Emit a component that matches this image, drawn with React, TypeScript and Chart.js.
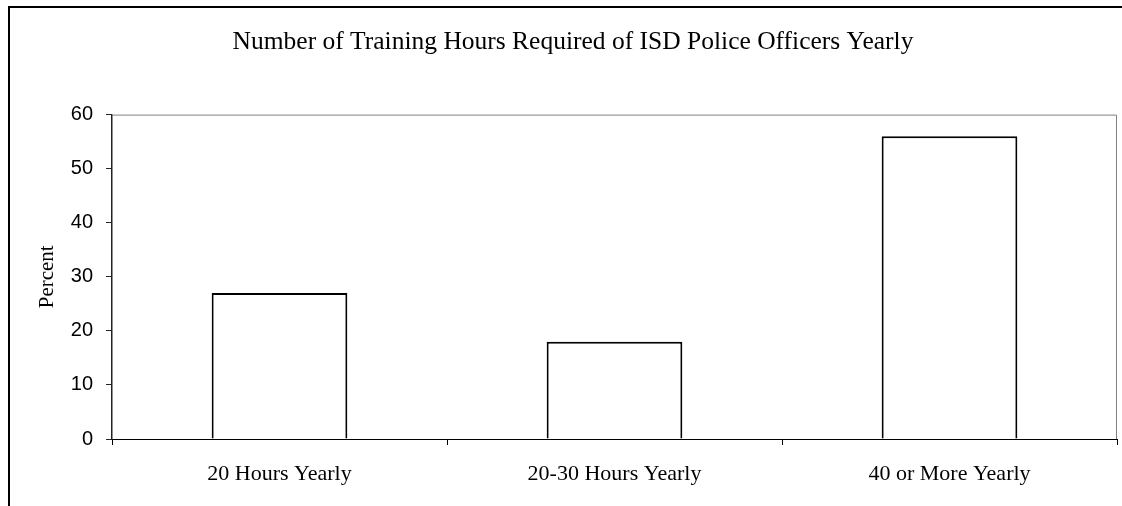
import React, { useEffect, useRef } from "react";
import { Chart, registerables } from "chart.js";

Chart.register(...registerables);

const categories = ["20 Hours Yearly", "20-30 Hours Yearly", "40 or More Yearly"];
const percentValues = [27, 18, 56];
const yTicks = [0, 10, 20, 30, 40, 50, 60];
const chartTitle = "Number of Training Hours Required of ISD Police Officers Yearly";
const yAxisTitle = "Percent";

const SERIF = "'Liberation Serif', 'Times New Roman', serif";
const SANS = "'Liberation Sans', Arial, sans-serif";

const framePlugin = {
  id: "frame",
  beforeDraw(chart: any) {
    const ctx = chart.ctx;
    ctx.save();
    ctx.fillStyle = "#ffffff";
    ctx.fillRect(0, 0, chart.width, chart.height);
    ctx.strokeStyle = "#000000";
    ctx.lineWidth = 2;
    ctx.beginPath();
    ctx.moveTo(9, chart.height + 10);
    ctx.lineTo(9, 7);
    ctx.lineTo(chart.width + 10, 7);
    ctx.stroke();
    ctx.restore();
  },
  afterDraw(chart: any) {
    const { left, top, right } = chart.chartArea;
    const ctx = chart.ctx;
    ctx.save();
    ctx.strokeStyle = "#808080";
    ctx.lineWidth = 1;
    ctx.beginPath();
    ctx.moveTo(left, top + 0.5);
    ctx.lineTo(right - 0.5, top + 0.5);
    ctx.lineTo(right - 0.5, chart.chartArea.bottom);
    ctx.stroke();
    ctx.restore();
  },
};

export default function App() {
  const canvasRef = useRef<HTMLCanvasElement | null>(null);

  useEffect(() => {
    if (!canvasRef.current) return;
    const chart = new Chart(canvasRef.current, {
      type: "bar",
      data: {
        labels: categories,
        datasets: [
          {
            data: percentValues,
            backgroundColor: "#ffffff",
            borderColor: "#000000",
            borderWidth: 2,
            barPercentage: 0.405,
            categoryPercentage: 1,
          },
        ],
      },
      options: {
        animation: false,
        responsive: false,
        devicePixelRatio: 1,
        layout: { padding: { left: 29, right: 5, top: 0, bottom: 0 } },
        plugins: {
          legend: { display: false },
          tooltip: { enabled: false },
          title: {
            display: true,
            text: chartTitle,
            color: "#000000",
            font: { family: SERIF, size: 25.5, weight: "normal" },
            padding: { top: 27, bottom: 57 },
          },
        },
        scales: {
          x: {
            grid: {
              display: true,
              drawOnChartArea: false,
              drawTicks: true,
              tickLength: 6,
              color: "#000000",
              offset: true,
            },
            border: { display: true, color: "#000000", width: 1 },
            ticks: {
              color: "#000000",
              padding: 16,
              maxRotation: 0,
              autoSkip: false,
              font: { family: SERIF, size: 22 },
            },
            afterFit(scale: any) {
              scale.height = 67;
            },
          },
          y: {
            min: 0,
            max: 60,
            afterBuildTicks(scale: any) {
              scale.ticks = yTicks.map((v) => ({ value: v }));
            },
            grid: {
              display: true,
              drawOnChartArea: false,
              drawTicks: true,
              tickLength: 6,
              color: "#222222",
            },
            border: { display: true, color: "#222222", width: 1.5 },
            ticks: {
              color: "#000000",
              padding: 13,
              font: { family: SANS, size: 20 },
            },
            title: {
              display: true,
              text: yAxisTitle,
              color: "#000000",
              font: { family: SERIF, size: 21 },
              padding: { top: 5.5, bottom: 0 },
            },
            afterFit(scale: any) {
              scale.width = 83;
            },
          },
        },
      },
      plugins: [framePlugin],
    });
    return () => chart.destroy();
  }, []);

  return (
    <div style={{ position: "fixed", left: 0, top: 0, width: 1122, height: 506, overflow: "hidden", background: "#fff" }}>
      <canvas ref={canvasRef} width={1122} height={506} style={{ display: "block", width: 1122, height: 506 }} />
    </div>
  );
}
